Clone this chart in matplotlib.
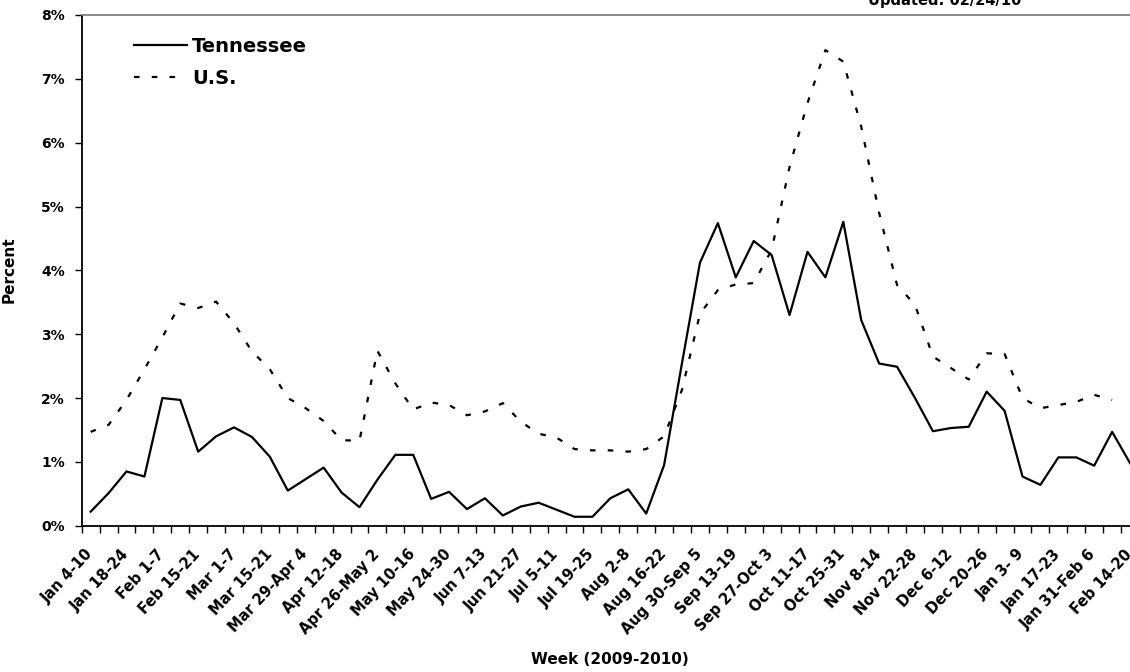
import numpy as np
import matplotlib.pyplot as plt
from matplotlib.transforms import ScaledTranslation

plt.rcParams['font.family'] = ['DejaVu Sans']
plt.rcParams['font.weight'] = 'bold'

# weekly percent of visits, Jan 4-10 2009 .. Feb 14-20 2010
tennessee = [0.22, 0.51, 0.85, 0.77, 2.00, 1.97, 1.16, 1.40, 1.54, 1.39,
             1.08, 0.55, 0.73, 0.91, 0.52, 0.29, 0.72, 1.11, 1.11, 0.42,
             0.53, 0.26, 0.43, 0.16, 0.30, 0.36, 0.25, 0.14, 0.14, 0.43,
             0.57, 0.19, 0.95, 2.55, 4.12, 4.74, 3.89, 4.46, 4.24, 3.30,
             4.29, 3.89, 4.76, 3.22, 2.54, 2.49, 2.00, 1.48, 1.53, 1.55,
             2.10, 1.80, 0.77, 0.64, 1.07, 1.07, 0.94, 1.47, 0.98]
us = [1.47, 1.58, 1.97, 2.45, 2.95, 3.48, 3.41, 3.51, 3.17, 2.73,
      2.45, 2.00, 1.84, 1.64, 1.34, 1.33, 2.74, 2.23, 1.82, 1.93,
      1.89, 1.73, 1.79, 1.92, 1.63, 1.44, 1.38, 1.20, 1.18, 1.18,
      1.16, 1.20, 1.40, 2.13, 3.32, 3.69, 3.78, 3.80, 4.32, 5.62,
      6.62, 7.45, 7.27, 6.25, 4.90, 3.77, 3.46, 2.65, 2.47, 2.29,
      2.70, 2.69, 2.00, 1.84, 1.89, 1.94, 2.05, 1.97, np.nan]

# label shown on every other week
week_labels = ['Jan 4-10', 'Jan 18-24', 'Feb 1-7', 'Feb 15-21', 'Mar 1-7',
               'Mar 15-21', 'Mar 29-Apr 4', 'Apr 12-18', 'Apr 26-May 2',
               'May 10-16', 'May 24-30', 'Jun 7-13', 'Jun 21-27', 'Jul 5-11',
               'Jul 19-25', 'Aug 2-8', 'Aug 16-22', 'Aug 30-Sep 5',
               'Sep 13-19', 'Sep 27-Oct 3', 'Oct 11-17', 'Oct 25-31',
               'Nov 8-14', 'Nov 22-28', 'Dec 6-12', 'Dec 20-26', 'Jan 3- 9',
               'Jan 17-23', 'Jan 31-Feb 6', 'Feb 14-20']

y_ticks = [0, 1, 2, 3, 4, 5, 6, 7, 8]

######################################

W, H = 1130, 672
fig = plt.figure(figsize=(W / 100, H / 100), dpi=100)
ax = fig.add_axes([81.7 / W, 1 - 525.7 / H, 1057.3 / W, 510.7 / H])

weeks = np.arange(len(tennessee))
ax.plot(weeks, tennessee, color='black', lw=1.6, label='Tennessee')
ax.plot(weeks, us, color='black', lw=1.6, dashes=(2.5, 5.5), label='U.S.')

ax.set_xlim(-0.5, len(weeks) - 0.5)
ax.set_ylim(0, 8)

# ticks between categories, labels at category centres
ax.set_xticks(np.arange(-0.5, len(weeks), 1.0))
ax.set_xticklabels([])
ax.tick_params(axis='x', which='major', length=5, width=1, direction='out')
ax.set_xticks(weeks[::2], week_labels, minor=True)
ax.tick_params(axis='x', which='minor', length=0, pad=15, labelsize=10.5)
shift = ScaledTranslation(-0.06, 0, fig.dpi_scale_trans)
for t in ax.get_xticklabels(minor=True):
    t.set_rotation(47)
    t.set_ha('right')
    t.set_va('top')
    t.set_rotation_mode('anchor')
    t.set_transform(t.get_transform() + shift)

ax.set_yticks(y_ticks, ['%d%%' % v for v in y_ticks])
ax.tick_params(axis='y', length=5, width=1, direction='out', pad=7,
               labelsize=10)

for side in ['left', 'bottom']:
    ax.spines[side].set_color('black')
    ax.spines[side].set_linewidth(1.3)
ax.spines['top'].set_color('#808080')
ax.spines['top'].set_linewidth(1.3)
ax.spines['right'].set_visible(False)

ax.set_ylabel('Percent', fontsize=11, fontweight='bold')
ax.yaxis.set_label_coords(17 / W, 1 - 270 / H, transform=fig.transFigure)

fig.text(610 / W, 1 - 660 / H, 'Week (2009-2010)', ha='center', va='center',
         fontsize=11, fontweight='bold')
fig.text(945 / W, 1 - 5 / H, 'Updated: 02/24/10', ha='center', va='baseline',
         fontsize=10.5, fontweight='bold')

ax.legend(loc='upper left', bbox_to_anchor=(134 / W, 1 - 37 / H),
          bbox_transform=fig.transFigure, frameon=False, fontsize=14,
          handlelength=2.7, handletextpad=0.3, labelspacing=0.65,
          borderpad=0, borderaxespad=0)

fig.savefig('out.png', dpi=100)
